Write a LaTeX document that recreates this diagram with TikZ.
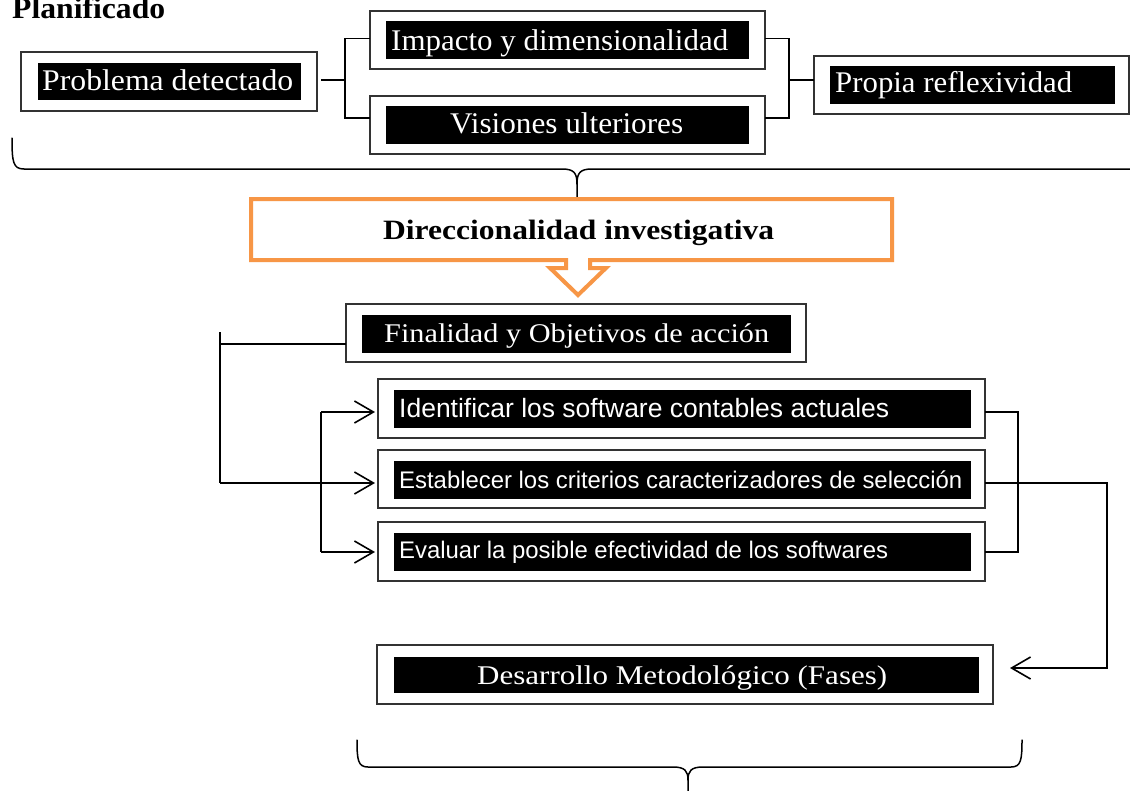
\documentclass[tikz,border=0pt]{standalone}
\usepackage{fontspec}
\setmainfont{Liberation Serif}
\newfontfamily\arialf{Liberation Sans}
\usetikzlibrary{arrows.meta}
\definecolor{orng}{HTML}{F79646}
\newcommand\fitt[3]{\resizebox{#1}{\height}{\fontsize{#2}{#2}\selectfont #3}}
\begin{document}
\begin{tikzpicture}[x=1pt,y=-1pt,
  obox/.style={draw=black!80, line width=1.3pt, fill=white, inner sep=0pt, outer sep=0pt},
  wtxt/.style={text=white, inner sep=0pt, anchor=base west},
  btxt/.style={text=black, inner sep=0pt, anchor=base west},
  conn/.style={line width=1.6pt, draw=black},
  arr/.style={-{Straight Barb[length=19pt,width=22pt]}},
  bracel/.style={line width=1.5pt, line cap=round}]
\useasboundingbox (0,0) rectangle (1130,790);
\clip (0,0) rectangle (1130,790);
\fill[white] (0,0) rectangle (1130,790);

% title
\node[btxt] (plan) at (12,18) {\fitt{153pt}{30}{\bfseries Planificado}};

% top boxes
\node[obox, minimum width=296pt, minimum height=59pt] (prob) at (169,81.5) {};
\node[obox, minimum width=395pt, minimum height=58pt] (imp) at (567.5,40) {};
\node[obox, minimum width=395pt, minimum height=58pt] (vis) at (567.5,125) {};
\node[obox, minimum width=315pt, minimum height=58pt] (prop) at (971.5,85) {};
\fill (38,63) rectangle (301,100);
\fill (386,21) rectangle (749,59);
\fill (386,106) rectangle (749,144);
\fill (830,66) rectangle (1115,104);
\node[wtxt] (tprob) at (42,90) {\fitt{251pt}{30}{Problema detectado}};
\node[wtxt] (timp) at (391,50) {\fitt{337pt}{30}{Impacto y dimensionalidad}};
\node[wtxt] (tvis) at (450,133) {\fitt{233pt}{30}{Visiones ulteriores}};
\node[wtxt] (tprop) at (835,92) {\fitt{237pt}{30}{Propia reflexividad}};

\coordinate (j1) at (345,80);
\coordinate (j2) at (789,80);
\draw[conn, shorten <=4pt] ([yshift=1.5pt]prob.east) -- (j1);
\draw[conn] ([yshift=1.5pt]imp.west) -| (j1) |- ([yshift=7pt]vis.west);
\draw[conn] ([yshift=1.5pt]imp.east) -| (j2) |- ([yshift=7pt]vis.east);
\draw[conn] (j2) -- ([yshift=5pt]prop.west);

% top brace
\draw[bracel] (12,138) .. controls (12,162) and (13,169) .. (24,169) -- (562,169)
  .. controls (574,169) and (577,173) .. (577,184) -- (577,197);
\draw[bracel] (1140,169) -- (592,169) .. controls (580,169) and (577,173) .. (577,184);

% orange callout
\draw[orng, line width=4pt, line join=miter] (251,199) -- (892,199) -- (892,260) -- (590,260)
  -- (590,268) -- (606,268) -- (578,295) -- (550,268) -- (566,268) -- (566,260) -- (251,260) -- cycle;
\node[btxt] (dir) at (383,239) {\fitt{391pt}{28}{\bfseries Direccionalidad investigativa}};

% finalidad
\node[obox, minimum width=460pt, minimum height=58pt] (fin) at (576,333) {};
\fill (362,315) rectangle (791,353);
\node[wtxt] (tfin) at (384,342) {\fitt{385pt}{27}{Finalidad y Objetivos de acción}};

% objectives
\node[obox, minimum width=607pt, minimum height=59pt] (ide) at (681.5,408.5) {};
\node[obox, minimum width=607pt, minimum height=58pt] (est) at (681.5,479) {};
\node[obox, minimum width=607pt, minimum height=59pt] (eva) at (681.5,551.5) {};
\fill (394,390) rectangle (971,428);
\fill (394,461) rectangle (971,499);
\fill (394,533) rectangle (971,571);
\node[wtxt] (tide) at (399,417) {\fitt{490pt}{26.5}{\arialf Identificar los software contables actuales}};
\node[wtxt] (test) at (399,488) {\fitt{563pt}{24}{\arialf Establecer los criterios caracterizadores de selección}};
\node[wtxt] (teva) at (399,558) {\fitt{489pt}{24}{\arialf Evaluar la posible efectividad de los softwares}};

% desarrollo
\node[obox, minimum width=616pt, minimum height=59pt] (des) at (685,674.5) {};
\fill (394,657) rectangle (979,693);
\node[wtxt] (tdes) at (477,684) {\fitt{410pt}{27}{Desarrollo Metodológico (Fases)}};

% left connectors
\coordinate (k0) at (220,332);
\coordinate (k1) at (220,344);
\coordinate (k2) at (220,483);
\draw[conn] (k0) -- (k2);
\draw[conn] (k1) -- ([yshift=-11pt]fin.west);
\draw[conn, arr, shorten >=3pt] (k2) -- ([yshift=-4pt]est.west);
\coordinate (m1) at (321,412);
\coordinate (m2) at (321,552);
\draw[conn] (m1) -- (m2);
\draw[conn, arr, shorten >=3pt] (m1) -- ([yshift=-3.5pt]ide.west);
\draw[conn, arr, shorten >=3pt] (m2) -- ([yshift=-0.5pt]eva.west);

% right connectors
\coordinate (n1) at (1018,412);
\coordinate (n2) at (1018,552);
\draw[conn] ([yshift=-3.5pt]ide.east) -- (n1) -- (n2) -- ([yshift=-0.5pt]eva.east);
\coordinate (p1) at (1107,483);
\coordinate (p2) at (1107,668);
\draw[conn, arr, shorten >=17pt] ([yshift=-4pt]est.east) -- (p1) -- (p2) -- ([yshift=6.5pt]des.east);

% bottom brace
\draw[bracel] (357,740) .. controls (357,760) and (358,767) .. (368,767) -- (673,767)
  .. controls (685,767) and (688,771) .. (688,780) -- (688,795);
\draw[bracel] (1022,740) .. controls (1022,760) and (1021,767) .. (1011,767) -- (703,767)
  .. controls (691,767) and (688,771) .. (688,780);
\end{tikzpicture}
\end{document}
